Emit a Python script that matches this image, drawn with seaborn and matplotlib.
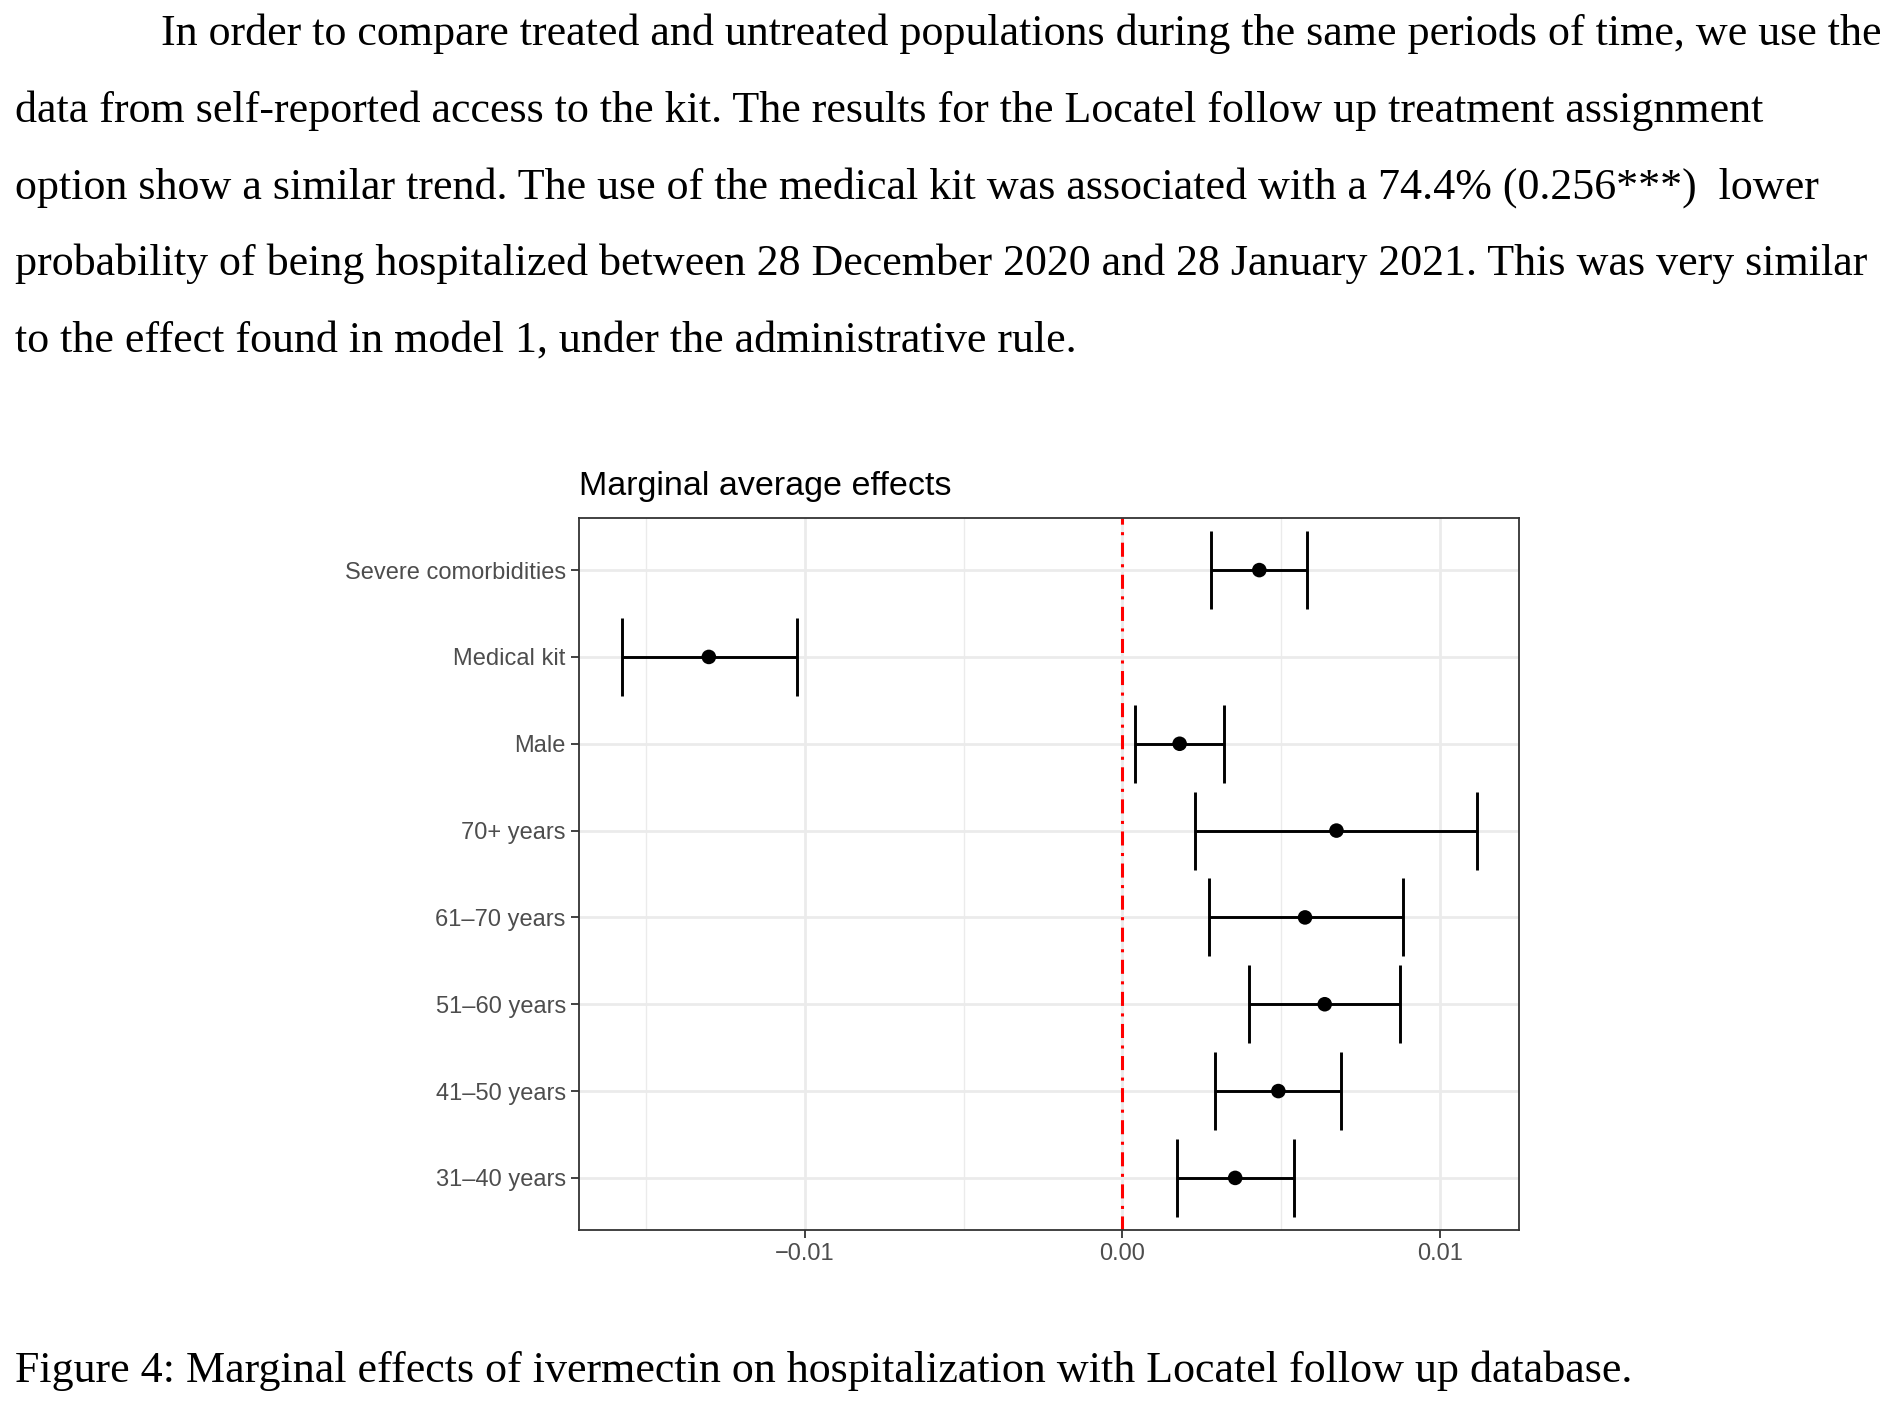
import numpy as np
import pandas as pd
import seaborn as sns
import matplotlib.pyplot as plt

# values (bottom row first)
variables = ['31–40 years', '41–50 years', '51–60 years', '61–70 years',
             '70+ years', 'Male', 'Medical kit', 'Severe comorbidities']
estimate = [0.00355, 0.00491, 0.00637, 0.00575, 0.00674, 0.00180, -0.01303, 0.00431]
lower = [0.00172, 0.00292, 0.00399, 0.00272, 0.00227, 0.00039, -0.01578, 0.00279]
upper = [0.00540, 0.00689, 0.00875, 0.00883, 0.01117, 0.00321, -0.01024, 0.00582]
x_ticks = [-0.01, 0.0, 0.01]
x_ticklabels = ['−0.01', '0.00', '0.01']

paragraph = [
    'In order to compare treated and untreated populations during the same periods of time, we use the',
    'data from self-reported access to the kit. The results for the Locatel follow up treatment assignment',
    'option show a similar trend. The use of the medical kit was associated with a 74.4% (0.256***)  lower',
    'probability of being hospitalized between 28 December 2020 and 28 January 2021. This was very similar',
    'to the effect found in model 1, under the administrative rule.',
]
caption = 'Figure 4: Marginal effects of ivermectin on hospitalization with Locatel follow up database.'

df = pd.DataFrame({'variable': variables, 'estimate': estimate,
                   'lower': lower, 'upper': upper})
df['pos'] = np.arange(len(df))

sns.set_theme(style='whitegrid')
plt.rcParams['font.family'] = ['Liberation Sans', 'DejaVu Sans']

W, H = 1892, 1402
fig = plt.figure(figsize=(W / 100, H / 100), dpi=100)
ax = fig.add_axes([579 / W, 1 - 1230 / H, (1519 - 579) / W, (1230 - 518) / H])

# zero line
ax.axvline(0, color='#FF0000', lw=2.2, ls=(0, (4.6, 2.45, 1, 2.45)), zorder=2)

# intervals with caps
ax.hlines(df['pos'], df['lower'], df['upper'], color='black', lw=2.1, zorder=3)
ax.vlines(df['lower'], df['pos'] - 0.45, df['pos'] + 0.45, color='black', lw=2.1, zorder=3)
ax.vlines(df['upper'], df['pos'] - 0.45, df['pos'] + 0.45, color='black', lw=2.1, zorder=3)
sns.scatterplot(data=df, x='estimate', y='pos', color='black', s=110,
                edgecolor='none', zorder=4, ax=ax)

ax.set_xlim(-0.01712, 0.01249)
ax.set_ylim(-0.6, len(df) - 0.4)
ax.set_xticks(x_ticks)
ax.set_xticklabels(x_ticklabels)
ax.set_xticks([-0.015, -0.005, 0.005], minor=True)
ax.set_yticks(df['pos'])
ax.set_yticklabels(df['variable'])
ax.set_xlabel('')
ax.set_ylabel('')

ax.grid(True, which='major', color='#EBEBEB', lw=2.0)
ax.grid(True, which='minor', axis='x', color='#EBEBEB', lw=1.0)
ax.set_axisbelow(True)
for s in ax.spines.values():
    s.set_visible(True)
    s.set_color('#333333')
    s.set_linewidth(1.3)
ax.tick_params(axis='both', which='major', length=5.5, width=1.3, color='#333333',
               labelsize=17, labelcolor='#4D4D4D', pad=4, left=True, bottom=True)
ax.tick_params(axis='x', which='minor', length=0)

ax.set_title('Marginal average effects', loc='left', fontsize=24.5, color='black', pad=16.5)

# surrounding document text
serif = ['Liberation Serif', 'DejaVu Serif']
line_y = [45, 122, 199, 275, 352]
for i, (txt, y) in enumerate(zip(paragraph, line_y)):
    x = 161 if i == 0 else 15
    fig.text(x / W, 1 - y / H, txt, family=serif, fontsize=31.7, color='black',
             va='baseline', ha='left')
fig.text(15 / W, 1 - 1382 / H, caption, family=serif, fontsize=31.7, color='black',
         va='baseline', ha='left')

fig.savefig('out.png', dpi=100, facecolor='white')
